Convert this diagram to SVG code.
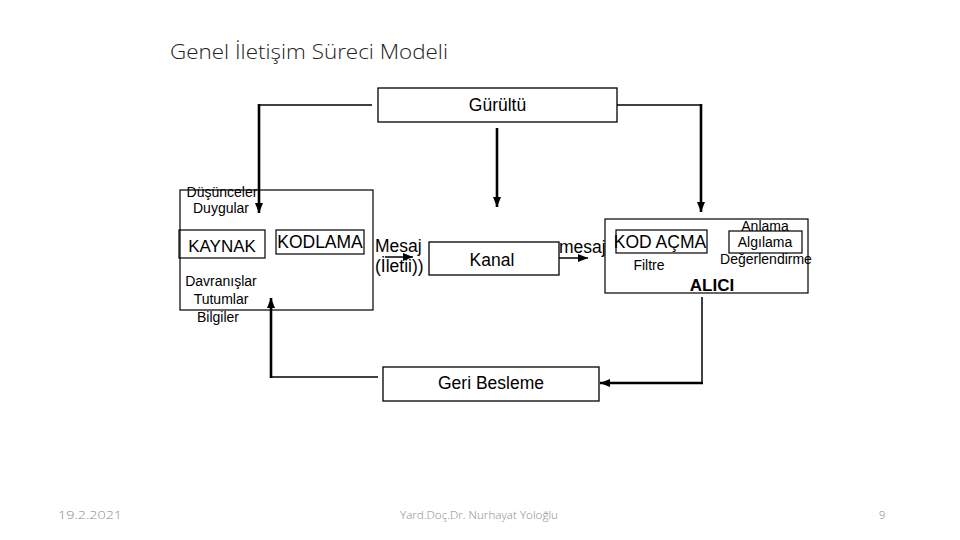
<svg xmlns="http://www.w3.org/2000/svg" width="960" height="540" viewBox="0 0 960 540">
<defs>
<marker id="ah" markerUnits="userSpaceOnUse" markerWidth="10" markerHeight="10" viewBox="0 0 10 10" refX="10" refY="5" orient="auto">
<path d="M0,1 L10,5 L0,9 Z" fill="#000"/>
</marker>
<style>
.box{fill:#fff;stroke:#000;stroke-width:1.3}
.ibox{fill:none;stroke:#000;stroke-width:1.2}
.t{font-family:"Liberation Sans",Arial,sans-serif;fill:#000}
.b{font-size:17.5px}
.s{font-size:14px}
.ln{fill:none;stroke:#000;stroke-width:1.5}
.th{fill:none;stroke:#000;stroke-width:2.6}
.ft{font-family:"Open Sans","Liberation Sans",sans-serif;font-weight:300;fill:#8a8a8a;font-size:11px}
</style>
</defs>
<rect width="960" height="540" fill="#fff"/>
<text x="170" y="59" font-family="Open Sans, Liberation Sans, sans-serif" font-weight="300" font-size="21" fill="#222" textLength="278" lengthAdjust="spacingAndGlyphs">Genel İletişim Süreci Modeli</text>

<g id="connectors">
<path class="ln" d="M372,105 H259"/>
<path class="th" d="M259,104 V213" marker-end="url(#ah)"/>
<path class="th" d="M497,128 V207" marker-end="url(#ah)"/>
<path class="ln" d="M617,105 H701"/>
<path class="th" d="M701,104 V212" marker-end="url(#ah)"/>
<path class="ln" d="M559,258 H588" marker-end="url(#ah)"/>
<path class="ln" d="M385,257 H413" marker-end="url(#ah)"/>
<path class="ln" d="M702,297 V383"/>
<path class="th" d="M703,383 H600" marker-end="url(#ah)"/>
<path class="ln" d="M378,377 H271"/>
<path class="th" d="M271,378 V298" marker-end="url(#ah)"/>
</g>

<g id="gurultu">
<rect class="box" x="378" y="88" width="239" height="34"/>
<text class="t b" x="497.5" y="111" text-anchor="middle">Gürültü</text>
</g>

<g id="kaynak-grup">
<rect class="ibox" x="180" y="190" width="193" height="120"/>
<text class="t s" x="222" y="197" text-anchor="middle">Düşünceler</text>
<text class="t s" x="221" y="213" text-anchor="middle">Duygular</text>
<text class="t s" x="221" y="286" text-anchor="middle">Davranışlar</text>
<text class="t s" x="221" y="304" text-anchor="middle">Tutumlar</text>
<text class="t s" x="218" y="322" text-anchor="middle">Bilgiler</text>
</g>
<g id="kaynak">
<rect class="ibox" x="179" y="230" width="86" height="28"/>
<text class="t" font-size="17" x="222" y="252" text-anchor="middle">KAYNAK</text>
</g>
<g id="kodlama">
<rect class="ibox" x="276" y="230" width="88" height="24"/>
<text class="t b" x="320" y="247.5" text-anchor="middle">KODLAMA</text>
</g>
<g id="mesaj">
<text class="t b" x="375" y="252">Mesaj</text>
<text class="t b" x="375" y="272">(İletii))</text>
</g>

<g id="kanal">
<rect class="box" x="429" y="242" width="130" height="33"/>
<text class="t b" x="492" y="266" text-anchor="middle">Kanal</text>
</g>
<text class="t b" x="559" y="253">mesaj</text>

<g id="alici">
<rect class="ibox" x="605" y="219" width="203" height="74"/>
<text class="t" font-size="17" font-weight="bold" x="712" y="291" text-anchor="middle">ALICI</text>
</g>
<g id="kodacma">
<rect class="ibox" x="616" y="230" width="91" height="23"/>
<text class="t b" x="660" y="248" text-anchor="middle">KOD AÇMA</text>
<text class="t s" x="649" y="270" text-anchor="middle">Filtre</text>
</g>
<g id="algilama">
<text class="t s" x="765" y="231" text-anchor="middle">Anlama</text>
<rect class="ibox" x="729" y="231" width="73" height="22"/>
<text class="t s" x="765" y="247" text-anchor="middle">Algılama</text>
<text class="t s" x="766" y="264" text-anchor="middle">Değerlendirme</text>
</g>

<g id="geribesleme">
<rect class="box" x="383" y="367" width="216" height="34"/>
<text class="t b" x="491" y="389" text-anchor="middle">Geri Besleme</text>
</g>

<text class="ft" x="58" y="519" textLength="64" lengthAdjust="spacingAndGlyphs">19.2.2021</text>
<text class="ft" x="400" y="519" textLength="158" lengthAdjust="spacingAndGlyphs">Yard.Doç.Dr. Nurhayat Yoloğlu</text>
<text class="ft" x="879" y="519">9</text>
</svg>
